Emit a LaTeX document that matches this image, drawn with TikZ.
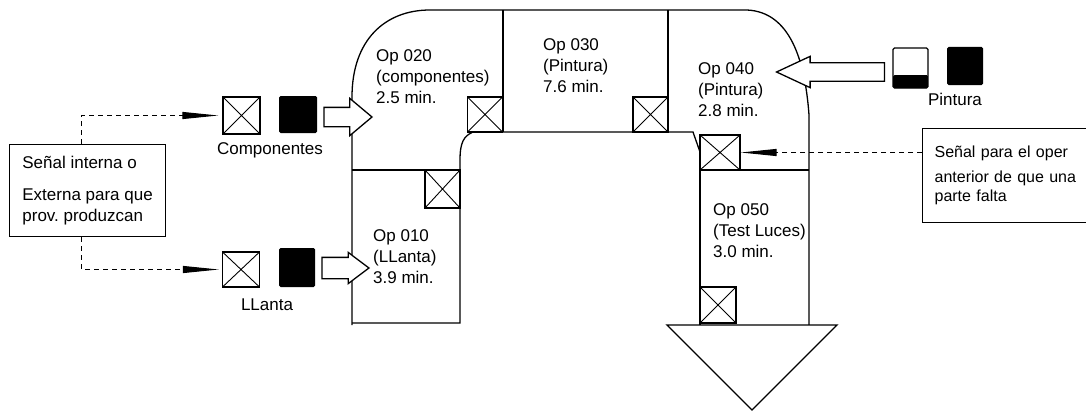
\documentclass[tikz,border=0pt]{standalone}
\usepackage{fontspec}
\setmainfont{Liberation Sans}
\usetikzlibrary{positioning, arrows.meta, shapes.arrows}
\frenchspacing

\begin{document}
\begin{tikzpicture}[x=1pt, y=-1pt,
    every node/.style={font=\fontsize{17}{21}\selectfont},
    wall/.style={line width=1.3pt},
    kanban/.style={draw, fill=white, line width=1.3pt, inner sep=0,
        path picture={\draw[line width=0.9pt]
            (path picture bounding box.north west) -- (path picture bounding box.south east)
            (path picture bounding box.south west) -- (path picture bounding box.north east);}},
    stock/.style={fill=black, rounded corners=1.5pt, inner sep=0},
    pushArrow/.style={single arrow, draw, fill=white, line width=1.3pt, inner xsep=0pt,
        single arrow head indent=0pt, anchor=tip},
    signal/.style={line width=1pt, dash pattern=on 5pt off 4pt,
        -{Triangle[length=36pt, width=7pt]}},
    sigbox/.style={draw, line width=1.2pt, align=left, inner sep=0pt, anchor=north west},
    opText/.style={align=left, inner sep=0pt, anchor=north west},
    lbl/.style={inner sep=0pt}]

    \useasboundingbox (0,0) rectangle (1086,412);
    \clip (0,0) rectangle (1086,412);

    % Walls of the cell
    \draw[wall] (352,325) -- (352,97) .. controls (352,40) and (385,10) .. (430,10)
        -- (747,10) .. controls (790,12) and (805,60) .. (809,115) -- (809,325);
    \draw[wall] (352,323) -- (460,323) -- (460,160) .. controls (460,142) and (464,136) .. (473,132)
        -- (693,132) -- (700,152);
    \draw[wall] (700,135) -- (700,325);

    % Dividers between operations
    \draw[wall] (352,170) -- (460,170);
    \draw[wall] (503,10) -- (503,132);
    \draw[wall] (668,10) -- (668,132);
    \draw[wall] (740,170) -- (809,170);

    % Exit arrow
    \draw[wall, fill=white] (667,325) -- (837,325) -- (752,410) -- cycle;

    % Kanban posts
    \node[kanban, minimum width=37pt, minimum height=37pt] (kbC) at (241.5,115.5) {};
    \node[kanban, minimum width=37pt, minimum height=35pt] (kbL) at (241,269.5) {};
    \node[kanban, minimum width=35pt, minimum height=35pt] (kb20) at (485,114.5) {};
    \node[kanban, minimum width=35pt, minimum height=38pt] (kb10) at (442.5,189) {};
    \node[kanban, minimum width=35pt, minimum height=35pt] (kb30) at (650.5,114.5) {};
    \node[kanban, minimum width=40pt, minimum height=35pt] (kbF) at (720,152.5) {};
    \node[kanban, minimum width=36pt, minimum height=36pt] (kb50) at (718,305) {};

    % Stock of parts
    \node[stock, minimum width=38pt, minimum height=37pt] (bkC) at (298,114.5) {};
    \node[stock, minimum width=36pt, minimum height=39pt] (bkL) at (297,267.5) {};
    \node[stock, minimum width=36pt, minimum height=38pt] (bkP) at (965,66) {};
    \node[draw, line width=1.3pt, rounded corners=1.5pt, inner sep=0,
        minimum width=35pt, minimum height=40pt,
        path picture={\fill (path picture bounding box.south west)
            rectangle ([yshift=13pt]path picture bounding box.south east);}] (hfP) at (910.5,68) {};

    % Part labels
    \node[lbl] (lblC) at (270,150) {Componentes};
    \node[lbl] (lblL) at (267,305) {LLanta};
    \node[lbl] (lblP) at (955,99) {Pintura};

    % Supply arrows
    \node[pushArrow, inner ysep=9pt, minimum height=48pt, single arrow head extend=9pt,
        single arrow tip angle=80] (arC) at (373,117) {};
    \node[pushArrow, inner ysep=10pt, minimum height=47pt, single arrow head extend=5pt,
        single arrow tip angle=74] (arL) at (370,268) {};
    \node[pushArrow, inner ysep=8.5pt, minimum height=108pt, single arrow head extend=6.5pt,
        single arrow tip angle=50, shape border rotate=180] (arP) at (775,72) {};

    % Operations
    \node[opText] (t020) at (376,49) {Op 020\\(componentes)\\2.5 min.};
    \node[opText] (t030) at (543,38) {Op 030\\(Pintura)\\7.6 min.};
    \node[opText] (t040) at (698,62) {Op 040\\(Pintura)\\2.8 min.};
    \node[opText] (t050) at (713,203) {Op 050\\(Test Luces)\\3.0 min.};
    \node[opText] (t010) at (373,229) {Op 010\\(LLanta)\\3.9 min.};

    % Signal boxes
    \node[sigbox, minimum width=156pt, minimum height=92pt] (sigL) at (9,144)
        {Señal interna o\\[11pt]Externa para que\\prov. produzcan};
    \node[sigbox, font=\fontsize{16}{21}\selectfont, inner xsep=12pt, text width=165pt,
        minimum height=94pt] (sigR) at (922,128)
        {Señal para el oper\\[4pt]anterior de que una\\[-2pt]parte falta};

    % Signals
    \draw[signal] ([xshift=-6pt]sigL.north) |- ([xshift=-4pt]kbC.west);
    \draw[signal] ([xshift=-6pt]sigL.south) |- ([xshift=-3pt]kbL.west);
    \draw[signal] (sigR.west |- kbF.east) -- (kbF.east);

\end{tikzpicture}
\end{document}
